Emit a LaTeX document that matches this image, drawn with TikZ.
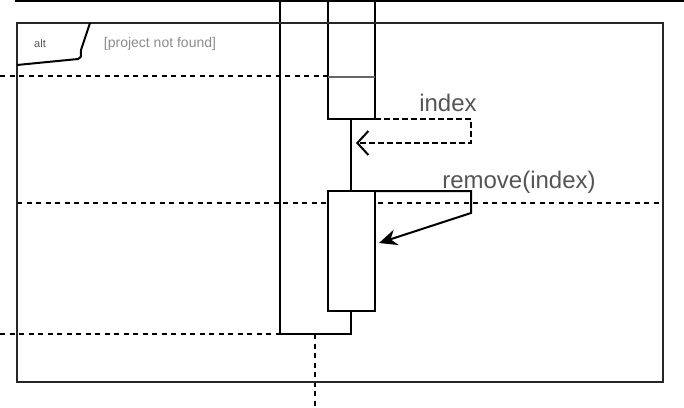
\documentclass[tikz,border=0pt]{standalone}
\usepackage{fontspec}
\setmainfont{Liberation Sans}
\usetikzlibrary{arrows.meta}
\definecolor{txtgray}{RGB}{85,85,85}
\definecolor{guardgray}{RGB}{140,140,140}
\tikzset{
  ln/.style={line width=2pt, black},
  frameln/.style={line width=2.2pt, black!85},
  sepdash/.style={line width=2pt, black, dash pattern=on 5pt off 4.5pt},
  retdash/.style={line width=2pt, black, dash pattern=on 6pt off 3pt},
  actbox/.style={draw, line width=2pt, black, fill=white},
  msglabel/.style={font=\fontsize{24}{28}\selectfont, text=txtgray, inner sep=0pt},
}
\begin{document}
\begin{tikzpicture}[x=1pt,y=-1pt]
\useasboundingbox (0,0) rectangle (684,407);
% coordinates
\coordinate (tl) at (15,1);
\coordinate (tr) at (684,1);
\coordinate (f1) at (17,23);
\coordinate (f2) at (663,382);
% outer activation bar
\draw[ln] (280,0) -- (280,334) -- (351,334) -- (351,0);
% dashed separators
\draw[sepdash] (0,76) -- (330,76);
\draw[sepdash] (17,203) -- (660,203);
\draw[sepdash] (0,334) -- (280,334);
\coordinate (llTop) at (315,334);
\coordinate (llBot) at (315,407);
\draw[sepdash] (llTop) -- (llBot);
% inner activation boxes
\draw[actbox] (328,0) -- (328,119) -- (375,119) -- (375,0);
\draw[line width=2.2pt, black!60] (328,77) -- (375,77);
\node[actbox, minimum width=47pt, minimum height=120pt, inner sep=0pt] (act2) at (351.5,251) {};
% top line
\draw[ln] (tl) -- (tr);
% frame
\draw[frameln] (f1) rectangle (f2);
\draw[ln] (17,65) -- (78,59) .. controls (81,58) .. (81,50) -- (90,23);
\node[font=\fontsize{11}{13}\selectfont, text=txtgray, inner sep=0pt] (altlbl) at (40,44) {alt};
\node[font=\fontsize{14}{16}\selectfont, text=guardgray, inner sep=0pt] (guard) at (160,44) {[project not found]};
% self return message "index"
\coordinate (r1) at (375,119);
\coordinate (r2) at (356,143);
\draw[retdash, -{Straight Barb[length=11pt,width=24pt,line width=2pt]}] (r1) -- (471,119) -- (471,143) -- (r2);
\node[msglabel] (idx) at (448,103) {index};
% call message remove(index)
\coordinate (c1) at (375,191);
\coordinate (c2) at (379,243);
\draw[ln, -{Stealth[length=18pt,width=16pt]}] (c1) -- (471,191) -- (471,213) -- (c2);
\node[msglabel] (rem) at (519,182) {remove(index)};
\end{tikzpicture}
\end{document}
